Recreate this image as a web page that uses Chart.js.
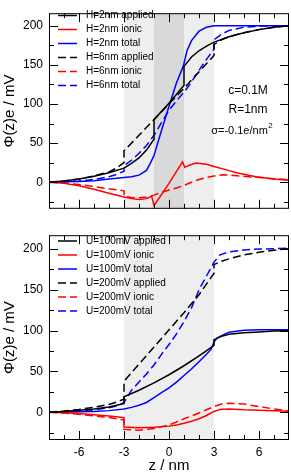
<!DOCTYPE html>
<html>
<head>
<meta charset="utf-8">
<script src="https://cdn.jsdelivr.net/npm/chart.js@4.4.1/dist/chart.umd.min.js"></script>
<style>
  body { margin: 0; background: #fff; width: 291px; height: 473px; overflow: hidden; position: relative; }
  canvas { position: absolute; left: 0; }
  #topChart { top: 0; }
  #bottomChart { top: 222px; }
</style>
</head>
<body>
<canvas id="topChart" width="291" height="222"></canvas>
<canvas id="bottomChart" width="291" height="251"></canvas>
<script>
// ---- data (z in nm, potential in mV) ----
const xTickLabels = [-6, -3, 0, 3, 6];
const yTickLabels = [0, 50, 100, 150, 200];

// shaded pore regions
const topShadeLight = [-3, 3];
const topShadeDark = [-1, 1];
const bottomShadeLight = [-3, 3];

// top panel: H = 2nm / 6nm
const topLabels = ["H=2nm applied", "H=2nm ionic", "H=2nm total", "H=6nm applied", "H=6nm ionic", "H=6nm total"];

const zH2Applied = [-8, -7, -6, -5, -4, -3, -2.5, -2, -1.5, -1, -1, 0, 1, 1, 1.5, 2, 2.5, 3, 4, 5, 6, 7, 8];
const phiH2Applied = [0, 1.5, 4, 7.5, 12, 18, 24, 31, 41, 55, 80, 101, 124, 148, 160, 168, 174, 179, 186, 191, 195, 198, 200];

const zH2Ionic = [-8, -7, -6, -5, -4, -3, -2.5, -2, -1.5, -1.15, -1, 0, 0.9, 1.05, 1.4, 1.8, 2.5, 3, 3.6, 4.5, 5.8, 7, 8];
const phiH2Ionic = [0, -1.5, -4.5, -9, -14, -19, -21, -22, -21, -18, -30, -1.5, 26, 19, 22, 24.5, 23, 20, 17, 12, 7, 4, 2.5];

const zH2Total = [-8, -7, -6, -5, -4, -3, -2.5, -2, -1.5, -1.25, -1, -0.5, 0, 0.5, 0.95, 1.2, 1.5, 2, 2.5, 3, 8];
const phiH2Total = [0, 0.5, 1, 2, 4, 6, 7, 9, 15, 24, 34, 66, 97, 127, 148, 168, 181, 193, 198, 200, 200];

const zH6Applied = [-8, -7, -6, -5, -4, -3.5, -3, -3, -2, -1, 0, 1, 2, 3, 3, 3.5, 4, 5, 6, 7, 8];
const phiH6Applied = [0, 1.5, 4, 8, 13, 18, 25, 40, 60, 80, 100, 120, 141, 162, 176, 182, 186, 191, 195, 198, 200];

const zH6Ionic = [-8, -7, -6, -5, -4, -3, -3, -2.5, -2, -1.5, -1, -0.5, 0, 0.5, 1, 1.5, 2, 2.5, 3, 3.6, 4.7, 6, 7, 8];
const phiH6Ionic = [0, -1, -3, -5.5, -8.5, -11, -18, -19.5, -20, -19, -16.5, -13, -10, -7.5, -4, 0, 3.5, 6, 8, 9.5, 8, 6, 4.5, 3];

const zH6Total = [-8, -7, -6, -5, -4, -3.5, -3, -3, -2.5, -2, -1.5, -1, -0.5, 0, 0.5, 1, 1.5, 2, 2.5, 3, 3, 3.5, 4, 5, 6, 8];
const phiH6Total = [0, 0.5, 1.5, 3.5, 7, 10, 14, 21, 28, 37, 47, 60, 76, 92, 104, 115, 128, 143, 157, 170, 182, 189, 194, 198, 199.5, 200];

// bottom panel: U = 100mV / 200mV
const bottomLabels = ["U=100mV applied", "U=100mV ionic", "U=100mV total", "U=200mV applied", "U=200mV ionic", "U=200mV total"];

const zU100Applied = [-8, -7, -6, -5, -4, -3.5, -3, -3, -2, -1, 0, 1, 2, 2.7, 3, 3, 3.5, 4, 5, 6, 7, 8];
const phiU100Applied = [0, 1, 2.5, 4, 6.5, 8.5, 10.5, 19, 27, 36, 46, 57, 69, 78, 82, 89, 93, 95.5, 97.5, 98.5, 99.5, 100];

const zU100Ionic = [-8, -7, -6, -5, -4, -3.5, -3, -3, -2, -1, 0, 0.5, 1, 1.5, 2, 2.5, 3, 3.4, 4, 5, 6, 7, 8];
const phiU100Ionic = [0, -0.5, -1.5, -3, -4.5, -5.5, -6.5, -18, -19, -18.5, -17, -15.5, -13.5, -11, -8, -4, 1, 3.5, 4, 3, 2.5, 1.8, 1.2];

const zU100Total = [-8, -7, -6, -5, -4, -3, -2.5, -2, -1.5, -1, -0.5, 0, 0.5, 1, 1.5, 2, 2.5, 2.8, 3, 3.2, 3.5, 4, 5, 6, 8];
const phiU100Total = [0, 0.3, 0.6, 1, 2, 4, 6, 8.5, 12, 18, 24, 30, 37, 45, 53, 62, 71, 77, 86, 91, 94, 98, 100.5, 101, 101];

const zU200Applied = [-8, -7, -6, -5, -4, -3.5, -3, -3, -2, -1, 0, 1, 2, 2.8, 3, 3, 3.5, 4, 5, 6, 7, 8];
const phiU200Applied = [0, 1.5, 3.5, 6, 9.5, 12.5, 16, 38, 59, 80, 101, 122, 144, 165, 170, 181, 185, 188, 193, 196, 198.5, 200.5];

const zU200Ionic = [-8, -7, -6, -5, -4, -3.5, -3, -3, -2, -1, 0, 0.5, 1, 1.5, 2, 2.5, 3, 3.5, 4, 5, 6, 7, 8];
const phiU200Ionic = [0, -1, -2.5, -4.5, -6.5, -8, -9.5, -21, -22, -20, -15.5, -12, -8, -4.5, -1, 3, 7, 10, 11, 10, 7, 4, 1.5];

const zU200Total = [-8, -7, -6, -5, -4, -3.5, -3, -2.5, -2, -1.5, -1, -0.5, 0, 0.5, 1, 1.5, 2, 2.5, 2.8, 3, 3.4, 4, 5, 6, 8];
const phiU200Total = [0, 0.5, 1.5, 3, 5.5, 7.5, 12, 27, 37, 47, 58, 71, 83, 96, 111, 128, 150, 167, 177, 184, 193, 196.5, 199, 200, 201];

// ---- helpers ----
const FONT = "'Liberation Sans', Arial, Helvetica, sans-serif";

function pts(zs, vs) {
  return zs.map((z, i) => ({ x: z, y: vs[i] }));
}

function series(label, zs, vs, color, dashed) {
  return {
    label: label,
    data: pts(zs, vs),
    borderColor: color,
    borderWidth: 1.5,
    borderDash: dashed ? [8, 4] : [],
    pointRadius: 0,
    fill: false,
    tension: 0,
  };
}

// grey bands behind the curves
const shadePlugin = {
  id: "shade",
  beforeDatasetsDraw(chart, args, opts) {
    const { ctx, chartArea: a, scales: { x } } = chart;
    ctx.save();
    opts.bands.forEach((b) => {
      const x0 = x.getPixelForValue(b.range[0]);
      const x1 = x.getPixelForValue(b.range[1]);
      ctx.fillStyle = b.color;
      ctx.fillRect(x0, a.top, x1 - x0, a.bottom - a.top);
    });
    ctx.restore();
  },
};

// box + inward ticks on all four sides
const frameTicks = {
  id: "frameTicks",
  afterDatasetsDraw(chart) {
    const { ctx, chartArea: a, scales: { x, y } } = chart;
    ctx.save();
    ctx.strokeStyle = "#000";
    ctx.lineWidth = 1;
    ctx.beginPath();
    for (let z = -7; z <= 7; z++) {
      const len = z % 3 === 0 ? 9 : 5;
      const px = Math.round(x.getPixelForValue(z)) + 0.5;
      ctx.moveTo(px, a.bottom); ctx.lineTo(px, a.bottom - len);
      ctx.moveTo(px, a.top); ctx.lineTo(px, a.top + len);
    }
    for (let v = -25; v <= 200; v += 25) {
      const len = v % 50 === 0 ? 9 : 5;
      const py = Math.round(y.getPixelForValue(v)) + 0.5;
      ctx.moveTo(a.left, py); ctx.lineTo(a.left + len, py);
      ctx.moveTo(a.right, py); ctx.lineTo(a.right - len, py);
    }
    ctx.stroke();
    ctx.strokeRect(a.left + 0.5, a.top + 0.5, a.right - a.left - 1, a.bottom - a.top - 1);
    ctx.restore();
  },
};

// legend sitting inside the plot, top-left
const innerLegend = {
  id: "innerLegend",
  afterDraw(chart, args, opts) {
    const ctx = chart.ctx;
    ctx.save();
    ctx.font = "10px " + FONT;
    ctx.textBaseline = "middle";
    ctx.fillStyle = "#000";
    chart.data.datasets.forEach((ds, i) => {
      const y = opts.top + i * opts.step;
      ctx.strokeStyle = ds.borderColor;
      ctx.lineWidth = ds.borderWidth;
      ctx.setLineDash(ds.borderDash);
      ctx.beginPath();
      ctx.moveTo(58, y);
      ctx.lineTo(77, y);
      ctx.stroke();
      ctx.setLineDash([]);
      ctx.fillText(ds.label, 86, y);
    });
    ctx.restore();
  },
};

// text notes in the top panel (optional superscript after the text)
const notes = {
  id: "notes",
  afterDraw(chart, args, opts) {
    const ctx = chart.ctx;
    ctx.save();
    ctx.fillStyle = "#000";
    ctx.textBaseline = "middle";
    opts.lines.forEach((l) => {
      ctx.font = l.size + "px " + FONT;
      const w = ctx.measureText(l.text).width;
      const sw = l.sup ? 5 : 0;
      const x0 = l.x - (w + sw) / 2;
      ctx.textAlign = "left";
      ctx.fillText(l.text, x0, l.y);
      if (l.sup) {
        ctx.font = "8px " + FONT;
        ctx.fillText(l.sup, x0 + w + 0.5, l.y - 5);
      }
    });
    ctx.restore();
  },
};

function makeOptions(yMax, padTop, xHeight, showX, pluginOpts) {
  return {
    responsive: false,
    animation: false,
    events: [],
    layout: { padding: { top: padTop, right: 2, left: 0, bottom: 0 } },
    plugins: Object.assign({ legend: { display: false }, tooltip: { enabled: false } }, pluginOpts),
    scales: {
      x: {
        type: "linear",
        min: -8,
        max: 8,
        grid: { display: false, drawTicks: false },
        border: { display: false },
        afterBuildTicks: (s) => { s.ticks = xTickLabels.map((v) => ({ value: v })); },
        afterFit: (s) => { s.height = xHeight; },
        ticks: { display: showX, autoSkip: false, maxRotation: 0, padding: 5, color: "#000", font: { family: FONT, size: 12 } },
        title: { display: showX, text: "z / nm", color: "#000", padding: 0, font: { family: FONT, size: 15, lineHeight: 1 } },
      },
      y: {
        type: "linear",
        min: -34,
        max: yMax,
        grid: { display: false, drawTicks: false },
        border: { display: false },
        afterBuildTicks: (s) => { s.ticks = yTickLabels.map((v) => ({ value: v })); },
        afterFit: (s) => { s.width = 49; },
        ticks: { autoSkip: false, padding: 6, color: "#000", font: { family: FONT, size: 12 } },
        title: { display: true, text: "Φ(z)e / mV", color: "#000", padding: 2, font: { family: FONT, size: 15, lineHeight: 1.1 } },
      },
    },
  };
}

// ---- top chart ----
new Chart(document.getElementById("topChart"), {
  type: "line",
  data: {
    datasets: [
      series(topLabels[0], zH2Applied, phiH2Applied, "#000000", false),
      series(topLabels[1], zH2Ionic, phiH2Ionic, "#ff0000", false),
      series(topLabels[2], zH2Total, phiH2Total, "#0000ff", false),
      series(topLabels[3], zH6Applied, phiH6Applied, "#000000", true),
      series(topLabels[4], zH6Ionic, phiH6Ionic, "#ff0000", true),
      series(topLabels[5], zH6Total, phiH6Total, "#0000ff", true),
    ],
  },
  options: makeOptions(216, 2, 7, false, {
    shade: { bands: [{ range: topShadeLight, color: "#eeeeee" }, { range: topShadeDark, color: "#d9d9d9" }] },
    innerLegend: { top: 15.5, step: 14 },
    notes: {
      lines: [
        { text: "c=0.1M", x: 248, y: 91, size: 12 },
        { text: "R=1nm", x: 248, y: 110, size: 12 },
        { text: "σ=-0.1e/nm", sup: "2", x: 242, y: 131, size: 11 },
      ],
    },
  }),
  plugins: [shadePlugin, frameTicks, innerLegend, notes],
});

// ---- bottom chart ----
new Chart(document.getElementById("bottomChart"), {
  type: "line",
  data: {
    datasets: [
      series(bottomLabels[0], zU100Applied, phiU100Applied, "#000000", false),
      series(bottomLabels[1], zU100Ionic, phiU100Ionic, "#ff0000", false),
      series(bottomLabels[2], zU100Total, phiU100Total, "#0000ff", false),
      series(bottomLabels[3], zU200Applied, phiU200Applied, "#000000", true),
      series(bottomLabels[4], zU200Ionic, phiU200Ionic, "#ff0000", true),
      series(bottomLabels[5], zU200Total, phiU200Total, "#0000ff", true),
    ],
  },
  options: makeOptions(217, 4, 33, true, {
    shade: { bands: [{ range: bottomShadeLight, color: "#eeeeee" }] },
    innerLegend: { top: 19, step: 14 },
  }),
  plugins: [shadePlugin, frameTicks, innerLegend],
});
</script>
</body>
</html>
